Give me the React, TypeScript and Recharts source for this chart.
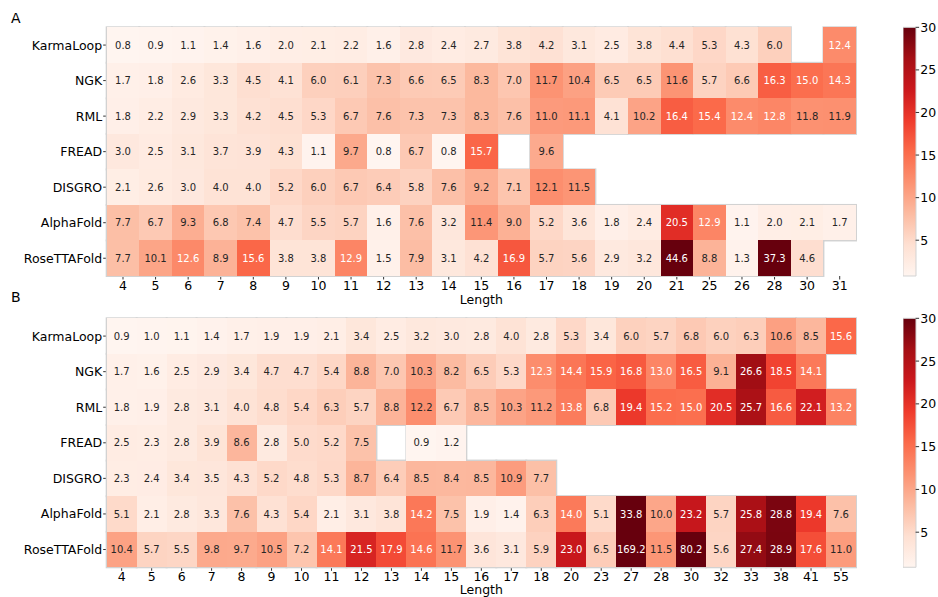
import { ScatterChart, Scatter, XAxis, YAxis, BarChart, Bar } from "recharts";

const models = ["KarmaLoop", "NGK", "RML", "FREAD", "DISGRO", "AlphaFold", "RoseTTAFold"];

// panel A
const lengthsA = [4, 5, 6, 7, 8, 9, 10, 11, 12, 13, 14, 15, 16, 17, 18, 19, 20, 21, 25, 26, 28, 30, 31];
const karmaA = [0.8, 0.9, 1.1, 1.4, 1.6, 2.0, 2.1, 2.2, 1.6, 2.8, 2.4, 2.7, 3.8, 4.2, 3.1, 2.5, 3.8, 4.4, 5.3, 4.3, 6.0, null, 12.4];
const ngkA = [1.7, 1.8, 2.6, 3.3, 4.5, 4.1, 6.0, 6.1, 7.3, 6.6, 6.5, 8.3, 7.0, 11.7, 10.4, 6.5, 6.5, 11.6, 5.7, 6.6, 16.3, 15.0, 14.3];
const rmlA = [1.8, 2.2, 2.9, 3.3, 4.2, 4.5, 5.3, 6.7, 7.6, 7.3, 7.3, 8.3, 7.6, 11.0, 11.1, 4.1, 10.2, 16.4, 15.4, 12.4, 12.8, 11.8, 11.9];
const freadA = [3.0, 2.5, 3.1, 3.7, 3.9, 4.3, 1.1, 9.7, 0.8, 6.7, 0.8, 15.7, null, 9.6, null, null, null, null, null, null, null, null, null];
const disgroA = [2.1, 2.6, 3.0, 4.0, 4.0, 5.2, 6.0, 6.7, 6.4, 5.8, 7.6, 9.2, 7.1, 12.1, 11.5, null, null, null, null, null, null, null, null];
const alphaA = [7.7, 6.7, 9.3, 6.8, 7.4, 4.7, 5.5, 5.7, 1.6, 7.6, 3.2, 11.4, 9.0, 5.2, 3.6, 1.8, 2.4, 20.5, 12.9, 1.1, 2.0, 2.1, 1.7];
const roseA = [7.7, 10.1, 12.6, 8.9, 15.6, 3.8, 3.8, 12.9, 1.5, 7.9, 3.1, 4.2, 16.9, 5.7, 5.6, 2.9, 3.2, 44.6, 8.8, 1.3, 37.3, 4.6, null];

// panel B
const lengthsB = [4, 5, 6, 7, 8, 9, 10, 11, 12, 13, 14, 15, 16, 17, 18, 20, 23, 27, 28, 30, 32, 33, 38, 41, 55];
const karmaB = [0.9, 1.0, 1.1, 1.4, 1.7, 1.9, 1.9, 2.1, 3.4, 2.5, 3.2, 3.0, 2.8, 4.0, 2.8, 5.3, 3.4, 6.0, 5.7, 6.8, 6.0, 6.3, 10.6, 8.5, 15.6];
const ngkB = [1.7, 1.6, 2.5, 2.9, 3.4, 4.7, 4.7, 5.4, 8.8, 7.0, 10.3, 8.2, 6.5, 5.3, 12.3, 14.4, 15.9, 16.8, 13.0, 16.5, 9.1, 26.6, 18.5, 14.1, null];
const rmlB = [1.8, 1.9, 2.8, 3.1, 4.0, 4.8, 5.4, 6.3, 5.7, 8.8, 12.2, 6.7, 8.5, 10.3, 11.2, 13.8, 6.8, 19.4, 15.2, 15.0, 20.5, 25.7, 16.6, 22.1, 13.2];
const freadB = [2.5, 2.3, 2.8, 3.9, 8.6, 2.8, 5.0, 5.2, 7.5, null, 0.9, 1.2, null, null, null, null, null, null, null, null, null, null, null, null, null];
const disgroB = [2.3, 2.4, 3.4, 3.5, 4.3, 5.2, 4.8, 5.3, 8.7, 6.4, 8.5, 8.4, 8.5, 10.9, 7.7, null, null, null, null, null, null, null, null, null, null];
const alphaB = [5.1, 2.1, 2.8, 3.3, 7.6, 4.3, 5.4, 2.1, 3.1, 3.8, 14.2, 7.5, 1.9, 1.4, 6.3, 14.0, 5.1, 33.8, 10.0, 23.2, 5.7, 25.8, 28.8, 19.4, 7.6];
const roseB = [10.4, 5.7, 5.5, 9.8, 9.7, 10.5, 7.2, 14.1, 21.5, 17.9, 14.6, 11.7, 3.6, 3.1, 5.9, 23.0, 6.5, 169.2, 11.5, 80.2, 5.6, 27.4, 28.9, 17.6, 11.0];

const colorbarTicks = [5, 10, 15, 20, 25, 30];
const VMAX = 30;

// matplotlib "Reds"
const REDS = ["#fff5f0", "#fee0d2", "#fcbba1", "#fc9272", "#fb6a4a", "#ef3b2c", "#cb181d", "#a50f15", "#67000d"];

const hexRgb = (h: string) => [1, 3, 5].map((i) => parseInt(h.slice(i, i + 2), 16));

const redsRgb = (t: number) => {
  const c = Math.min(1, Math.max(0, t)) * (REDS.length - 1);
  const i = Math.min(REDS.length - 2, Math.floor(c));
  const f = c - i;
  const a = hexRgb(REDS[i]);
  const b = hexRgb(REDS[i + 1]);
  return a.map((v, k) => v + (b[k] - v) * f);
};

// same rule seaborn uses to pick the annotation colour
const luminance = (rgb: number[]) => {
  const lin = rgb.map((v) => {
    const s = v / 255;
    return s <= 0.03928 ? s / 12.92 : Math.pow((s + 0.055) / 1.055, 2.4);
  });
  return 0.2126 * lin[0] + 0.7152 * lin[1] + 0.0722 * lin[2];
};

const FONT = "DejaVu Sans";
const W = 938;

const buildPoints = (rows: (number | null)[][]) => {
  const pts: { x: number; y: number; v: number }[] = [];
  rows.forEach((row, j) =>
    row.forEach((v, i) => {
      if (v !== null) pts.push({ x: i, y: j, v });
    })
  );
  return pts;
};

interface HeatProps {
  top: number;
  height: number;
  plotTop: number;
  plotBottom: number;
  lengths: number[];
  rows: (number | null)[][];
  labelOffset: number;
}

const PLOT_LEFT = 106.7;
const PLOT_RIGHT = 856;

const Heatmap = ({ top, height, plotTop, plotBottom, lengths, rows, labelOffset }: HeatProps) => {
  const points = buildPoints(rows);
  const vmin = Math.min(...points.map((p) => p.v));
  const cw = (PLOT_RIGHT - PLOT_LEFT) / lengths.length;
  const ch = (plotBottom - plotTop) / models.length;

  const Outline = (props: any) => {
    const { cx, cy } = props;
    return <rect x={cx - cw / 2} y={cy - ch / 2} width={cw} height={ch} fill="none" stroke="#d2d2d2" strokeWidth={2} />;
  };

  const CellShape = (props: any) => {
    const { cx, cy, payload } = props;
    const rgb = redsRgb((payload.v - vmin) / (VMAX - vmin));
    const fill = `rgb(${rgb.map((v) => Math.round(v)).join(",")})`;
    const txt = luminance(rgb) > 0.408 ? "#262626" : "#ffffff";
    return (
      <g>
        <rect x={cx - cw / 2} y={cy - ch / 2} width={cw} height={ch} fill={fill} shapeRendering="crispEdges" />
        <text x={cx} y={cy} dy="0.36em" textAnchor="middle" fontSize={10} fontFamily={FONT} fill={txt}>
          {payload.v.toFixed(1)}
        </text>
      </g>
    );
  };

  return (
    <div style={{ position: "absolute", left: 0, top }}>
      <ScatterChart
        width={W}
        height={height}
        margin={{ top: plotTop - top, right: W - PLOT_RIGHT, left: 0, bottom: 0 }}
      >
        <XAxis
          type="number"
          dataKey="x"
          domain={[-0.5, lengths.length - 0.5]}
          ticks={lengths.map((_, i) => i)}
          interval={0}
          tickFormatter={(i: number) => String(lengths[i])}
          height={height - (plotBottom - top)}
          axisLine={false}
          tickSize={3.5}
          tickMargin={1.5}
          tickLine={{ stroke: "#333" }}
          tick={{ fill: "#000", fontSize: 12.5, fontFamily: FONT }}
          label={{ value: "Length", position: "insideBottom", offset: labelOffset, fill: "#000", fontSize: 12.5, fontFamily: FONT }}
        />
        <YAxis
          type="number"
          dataKey="y"
          reversed
          domain={[-0.5, models.length - 0.5]}
          ticks={models.map((_, j) => j)}
          interval={0}
          tickFormatter={(j: number) => models[j]}
          width={PLOT_LEFT}
          axisLine={false}
          tickSize={3.5}
          tickMargin={1}
          tickLine={{ stroke: "#333" }}
          tick={{ fill: "#000", fontSize: 12.5, fontFamily: FONT }}
        />
        <Scatter data={points} shape={Outline} isAnimationActive={false} />
        <Scatter data={points} shape={CellShape} isAnimationActive={false} />
      </ScatterChart>
    </div>
  );
};

const CB_X = 902.7;
const CB_W = 12.6;

const ColorbarTick = (props: any) => {
  const { y, payload } = props;
  return (
    <g>
      <line x1={CB_W} x2={CB_W + 3.5} y1={y} y2={y} stroke="#333" />
      <text x={CB_W + 4.6} y={y} dy="0.36em" textAnchor="start" fontSize={12.5} fontFamily={FONT} fill="#000">
        {payload.value}
      </text>
    </g>
  );
};

const Colorbar = ({ id, top, plotTop, plotBottom, vmin }: { id: string; top: number; plotTop: number; plotBottom: number; vmin: number }) => {
  const axisW = 34;
  const h = plotBottom - top + 10;
  return (
    <div style={{ position: "absolute", left: CB_X, top }}>
      <svg width={0} height={0} style={{ position: "absolute" }}>
        <defs>
          <linearGradient id={id} x1="0" y1="1" x2="0" y2="0">
            {REDS.map((c, i) => (
              <stop key={i} offset={`${(i / (REDS.length - 1)) * 100}%`} stopColor={c} />
            ))}
          </linearGradient>
        </defs>
      </svg>
      <BarChart
        width={CB_W + axisW}
        height={h}
        data={[{ name: "cb", range: [vmin, VMAX] }]}
        margin={{ top: plotTop - top, right: 0, left: 0, bottom: h - (plotBottom - top) }}
        barCategoryGap={0}
        style={{ overflow: "visible" }}
      >
        <XAxis dataKey="name" hide />
        <YAxis
          orientation="right"
          type="number"
          domain={[vmin, VMAX]}
          ticks={colorbarTicks}
          interval={0}
          width={axisW}
          axisLine={false}
          tickLine={false}
          tick={<ColorbarTick />}
        />
        <Bar dataKey="range" fill={`url(#${id})`} stroke="#d2d2d2" strokeWidth={1} isAnimationActive={false} />
      </BarChart>
    </div>
  );
};

const rowsA = [karmaA, ngkA, rmlA, freadA, disgroA, alphaA, roseA];
const rowsB = [karmaB, ngkB, rmlB, freadB, disgroB, alphaB, roseB];
const minOf = (rows: (number | null)[][]) => Math.min(...rows.flat().filter((v): v is number => v !== null));

const App = () => {
  return (
    <div style={{ position: "relative", width: W, height: 597, background: "#fff", fontFamily: FONT }}>
      <style>{"body{margin:0}"}</style>
      <div style={{ position: "absolute", left: 11, top: 10, fontSize: 14, fontFamily: FONT }}>A</div>
      <div style={{ position: "absolute", left: 11, top: 289, fontSize: 14, fontFamily: FONT }}>B</div>
      <Heatmap top={0} height={310} plotTop={27.3} plotBottom={276} lengths={lengthsA} rows={rowsA} labelOffset={6.5} />
      <Heatmap top={290} height={307} plotTop={318.3} plotBottom={567.3} lengths={lengthsB} rows={rowsB} labelOffset={3} />
      <Colorbar id="cbA" top={0} plotTop={27.3} plotBottom={276} vmin={minOf(rowsA)} />
      <Colorbar id="cbB" top={290} plotTop={318.3} plotBottom={567.3} vmin={minOf(rowsB)} />
    </div>
  );
};

export default App;
